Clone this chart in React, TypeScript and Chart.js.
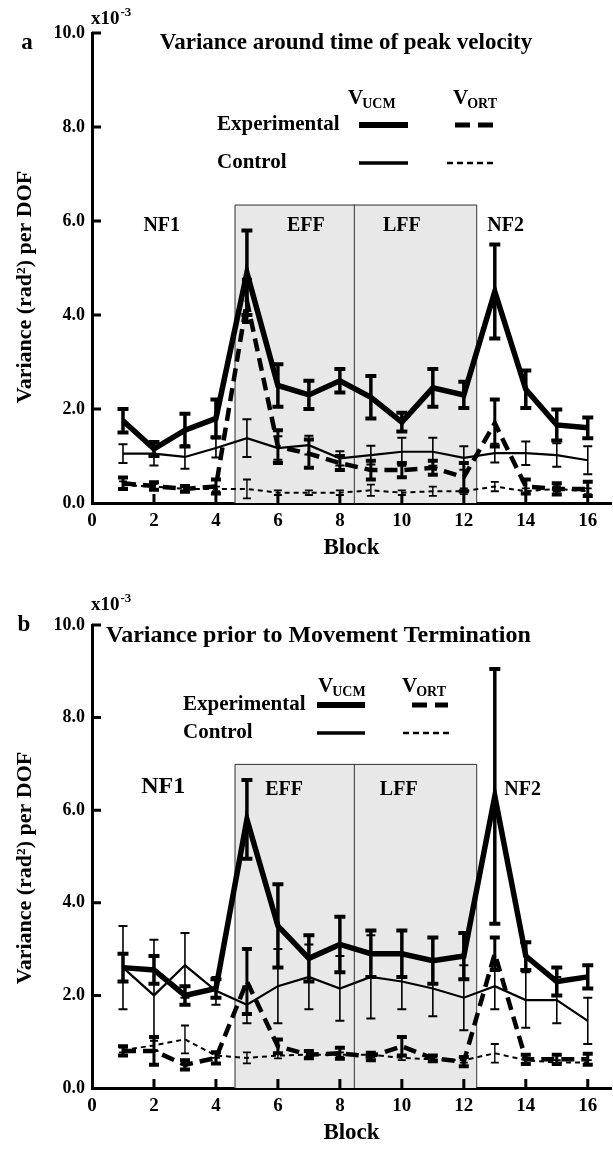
import React, { useEffect, useRef } from 'react';
import { Chart, registerables } from 'chart.js';
Chart.register(...registerables);

// ---------- data ----------
const blocks = [1, 2, 3, 4, 5, 6, 7, 8, 9, 10, 11, 12, 13, 14, 15, 16];
const xTickValues = [0, 2, 4, 6, 8, 10, 12, 14, 16];
const yTickValues = [0, 2, 4, 6, 8, 10];

// Panel a: variance around time of peak velocity (x10^-3)
const aExpUCM = [1.75, 1.15, 1.55, 1.8, 4.9, 2.5, 2.3, 2.6, 2.25, 1.72, 2.45, 2.3, 4.5, 2.42, 1.66, 1.6];
const aExpUCMErr = [0.25, 0.15, 0.35, 0.4, 0.9, 0.45, 0.3, 0.25, 0.45, 0.2, 0.4, 0.28, 1.0, 0.4, 0.33, 0.22];
const aExpORT = [0.42, 0.36, 0.3, 0.35, 4.3, 1.2, 1.05, 0.85, 0.7, 0.7, 0.75, 0.55, 1.7, 0.35, 0.3, 0.3];
const aExpORTErr = [0.12, 0.08, 0.06, 0.15, 0.45, 0.35, 0.3, 0.15, 0.2, 0.15, 0.15, 0.3, 0.5, 0.15, 0.12, 0.15];
const aCtlUCM = [1.05, 1.05, 0.98, 1.17, 1.38, 1.17, 1.23, 0.95, 1.02, 1.09, 1.09, 0.96, 1.06, 1.06, 1.02, 0.91];
const aCtlUCMErr = [0.2, 0.25, 0.25, 0.2, 0.4, 0.25, 0.2, 0.15, 0.2, 0.3, 0.3, 0.25, 0.2, 0.25, 0.25, 0.3];
const aCtlORT = [0.38, 0.35, 0.3, 0.3, 0.3, 0.22, 0.22, 0.22, 0.27, 0.22, 0.25, 0.25, 0.35, 0.25, 0.3, 0.25];
const aCtlORTErr = [0.08, 0.06, 0.05, 0.05, 0.2, 0.05, 0.05, 0.05, 0.12, 0.05, 0.1, 0.06, 0.1, 0.06, 0.06, 0.06];

// Panel b: variance prior to movement termination (x10^-3)
const bExpUCM = [2.6, 2.55, 2.0, 2.15, 5.8, 3.5, 2.8, 3.1, 2.9, 2.9, 2.75, 2.85, 6.3, 2.85, 2.3, 2.4];
const bExpUCMErr = [0.3, 0.3, 0.2, 0.2, 0.85, 0.9, 0.5, 0.6, 0.5, 0.5, 0.5, 0.5, 2.75, 0.3, 0.3, 0.25];
const bExpORT = [0.8, 0.8, 0.5, 0.65, 2.3, 0.9, 0.72, 0.75, 0.68, 0.9, 0.64, 0.57, 2.9, 0.62, 0.62, 0.62];
const bExpORTErr = [0.1, 0.3, 0.1, 0.12, 0.7, 0.15, 0.08, 0.12, 0.08, 0.2, 0.06, 0.1, 0.35, 0.1, 0.1, 0.12];
const bCtlUCM = [2.6, 2.0, 2.65, 2.1, 1.8, 2.2, 2.4, 2.15, 2.4, 2.3, 2.15, 1.95, 2.2, 1.9, 1.9, 1.45];
const bCtlUCMErr = [0.9, 1.2, 0.7, 0.3, 0.4, 0.8, 0.7, 0.7, 0.9, 0.6, 0.6, 0.7, 0.5, 0.6, 0.5, 0.5];
const bCtlORT = [0.82, 0.92, 1.05, 0.7, 0.65, 0.7, 0.72, 0.72, 0.72, 0.65, 0.62, 0.6, 0.75, 0.6, 0.55, 0.55];
const bCtlORTErr = [0.05, 0.1, 0.3, 0.05, 0.12, 0.06, 0.05, 0.05, 0.05, 0.05, 0.05, 0.05, 0.2, 0.05, 0.05, 0.05];

// phase boundaries (in block units) and labels
const phaseBounds = [4.6, 8.45, 12.4];
const phaseNames = ['NF1', 'EFF', 'LFF', 'NF2'];

const FONT = '"Liberation Serif", "Times New Roman", serif';
const W = 613;
const H = 575;

type Panel = {
  letter: string;
  title: string;
  expUCM: number[]; expUCMErr: number[];
  expORT: number[]; expORTErr: number[];
  ctlUCM: number[]; ctlUCMErr: number[];
  ctlORT: number[]; ctlORTErr: number[];
  layout: any;
};

const panelA: Panel = {
  letter: 'a',
  title: 'Variance around time of peak velocity',
  expUCM: aExpUCM, expUCMErr: aExpUCMErr,
  expORT: aExpORT, expORTErr: aExpORTErr,
  ctlUCM: aCtlUCM, ctlUCMErr: aCtlUCMErr,
  ctlORT: aCtlORT, ctlORTErr: aCtlORTErr,
  layout: {
    top: 33, bottomH: 72,
    letterPos: [27, 43],
    expPos: [91, 24],
    titlePos: [346, 43, 'center', 23],
    legHead: [348, 453, 97],
    legRows: [217, 125, 163],
    legUCM: [359, 408],
    legORT: [455, 493, 447, 494],
    regionTop: 6.35,
    phaseLabels: [[2.25, 5.9, 20], [6.9, 5.9, 20], [10.0, 5.9, 20], [13.35, 5.9, 20]],
    yTitleY: 287,
    blockY: 548,
  },
};

const panelB: Panel = {
  letter: 'b',
  title: 'Variance prior to Movement Termination',
  expUCM: bExpUCM, expUCMErr: bExpUCMErr,
  expORT: bExpORT, expORTErr: bExpORTErr,
  ctlUCM: bCtlUCM, ctlUCMErr: bCtlUCMErr,
  ctlORT: bCtlORT, ctlORTErr: bCtlORTErr,
  layout: {
    top: 50, bottomH: 62,
    letterPos: [24, 50],
    expPos: [91, 35],
    titlePos: [106, 61, 'left', 24],
    legHead: [318, 402, 110],
    legRows: [183, 130, 158],
    legUCM: [317, 365],
    legORT: [412, 448, 403, 449],
    regionTop: 7.0,
    phaseLabels: [[2.3, 6.5, 24], [6.2, 6.45, 20], [9.9, 6.45, 20], [13.9, 6.45, 20]],
    yTitleY: 293,
    blockY: 558,
  },
};

function bold(size: number) {
  return `bold ${size}px ${FONT}`;
}

function makePlugin(p: Panel) {
  const L = p.layout;
  return {
    id: 'decor' + p.letter,
    beforeDatasetsDraw(chart: any) {
      const { ctx, scales } = chart;
      const xs = scales.x, ys = scales.y;
      const x0 = xs.getPixelForValue(phaseBounds[0]);
      const x1 = xs.getPixelForValue(phaseBounds[1]);
      const x2 = xs.getPixelForValue(phaseBounds[2]);
      const yt = ys.getPixelForValue(L.regionTop);
      const yb = ys.getPixelForValue(0);
      ctx.save();
      ctx.fillStyle = '#e8e8e8';
      ctx.fillRect(x0, yt, x2 - x0, yb - yt);
      ctx.strokeStyle = '#333';
      ctx.lineWidth = 1;
      ctx.beginPath();
      ctx.moveTo(x0 + 0.5, yb);
      ctx.lineTo(x0 + 0.5, yt + 0.5);
      ctx.lineTo(x2 + 0.5, yt + 0.5);
      ctx.lineTo(x2 + 0.5, yb);
      ctx.moveTo(x1 + 0.5, yt);
      ctx.lineTo(x1 + 0.5, yb);
      ctx.stroke();
      // phase labels
      ctx.fillStyle = '#000';
      ctx.textAlign = 'center';
      ctx.textBaseline = 'middle';
      phaseNames.forEach((n, i) => {
        const [bx, by, fs] = L.phaseLabels[i];
        ctx.font = bold(fs);
        ctx.fillText(n, xs.getPixelForValue(bx), ys.getPixelForValue(by));
      });
      ctx.restore();
    },
    afterDatasetsDraw(chart: any) {
      const { ctx, scales } = chart;
      const xs = scales.x, ys = scales.y;
      ctx.save();
      ctx.strokeStyle = '#000';
      chart.data.datasets.forEach((ds: any) => {
        const errs: number[] = ds.errors;
        ds.data.forEach((pt: any, i: number) => {
          const e = errs[i];
          const x = xs.getPixelForValue(pt.x);
          const yt = ys.getPixelForValue(pt.y + e);
          const yb = ys.getPixelForValue(Math.max(0, pt.y - e));
          ctx.lineWidth = ds.errW;
          ctx.setLineDash([]);
          ctx.beginPath();
          ctx.moveTo(x, yt);
          ctx.lineTo(x, yb);
          ctx.stroke();
          ctx.lineWidth = ds.capW;
          ctx.beginPath();
          ctx.moveTo(x - ds.capHalf, yt);
          ctx.lineTo(x + ds.capHalf, yt);
          ctx.moveTo(x - ds.capHalf, yb);
          ctx.lineTo(x + ds.capHalf, yb);
          ctx.stroke();
        });
      });
      ctx.restore();
    },
    afterDraw(chart: any) {
      const { ctx, scales, chartArea } = chart;
      const xs = scales.x, ys = scales.y;
      ctx.save();
      ctx.strokeStyle = '#000';
      ctx.fillStyle = '#000';
      // inward tick marks
      ctx.lineWidth = 3;
      ctx.beginPath();
      yTickValues.forEach((v) => {
        if (v === 0) return;
        const y = ys.getPixelForValue(v);
        ctx.moveTo(chartArea.left, y);
        ctx.lineTo(chartArea.left + 9, y);
      });
      xTickValues.forEach((v) => {
        if (v === 0) return;
        const x = xs.getPixelForValue(v);
        ctx.moveTo(x, chartArea.bottom);
        ctx.lineTo(x, chartArea.bottom - 9);
      });
      ctx.stroke();

      // panel letter
      ctx.textBaseline = 'middle';
      ctx.textAlign = 'center';
      ctx.font = bold(23);
      ctx.fillText(p.letter, L.letterPos[0], L.letterPos[1]);

      // exponent label x10^-3
      ctx.textAlign = 'left';
      ctx.textBaseline = 'alphabetic';
      ctx.font = bold(19);
      ctx.fillText('x10', L.expPos[0], L.expPos[1]);
      const w10 = ctx.measureText('x10').width;
      ctx.font = bold(13);
      ctx.fillText('-3', L.expPos[0] + w10 + 1, L.expPos[1] - 8);

      // title
      const [tx, ty, talign, tsize] = L.titlePos;
      ctx.font = bold(tsize);
      ctx.textAlign = talign;
      ctx.textBaseline = 'middle';
      ctx.fillText(p.title, tx, ty);

      // legend headers V_UCM, V_ORT
      const drawV = (x: number, y: number, sub: string) => {
        ctx.textAlign = 'left';
        ctx.textBaseline = 'alphabetic';
        ctx.font = bold(21);
        ctx.fillText('V', x, y + 7);
        const wv = ctx.measureText('V').width;
        ctx.font = bold(14);
        ctx.fillText(sub, x + wv - 1, y + 11);
      };
      drawV(L.legHead[0], L.legHead[2], 'UCM');
      drawV(L.legHead[1], L.legHead[2], 'ORT');

      ctx.font = bold(21);
      ctx.textAlign = 'left';
      ctx.textBaseline = 'middle';
      ctx.fillText('Experimental', L.legRows[0], L.legRows[1]);
      ctx.fillText('Control', L.legRows[0], L.legRows[2]);

      // legend line samples
      const seg = (xa: number, xb: number, y: number, lw: number, dash: number[]) => {
        ctx.lineWidth = lw;
        ctx.setLineDash(dash);
        ctx.beginPath();
        ctx.moveTo(xa, y);
        ctx.lineTo(xb, y);
        ctx.stroke();
      };
      seg(L.legUCM[0], L.legUCM[1], L.legRows[1], 6, []);
      seg(L.legORT[0], L.legORT[1], L.legRows[1], 5, [15, 8]);
      seg(L.legUCM[0], L.legUCM[1], L.legRows[2], 3.5, []);
      seg(L.legORT[2], L.legORT[3], L.legRows[2], 2.5, [6, 4]);
      ctx.setLineDash([]);

      // y axis title
      ctx.save();
      ctx.translate(25, L.yTitleY);
      ctx.rotate(-Math.PI / 2);
      ctx.textAlign = 'center';
      ctx.textBaseline = 'middle';
      ctx.font = bold(22);
      ctx.fillText('Variance (rad\u00B2) per DOF', 0, 0);
      ctx.restore();

      // x axis title
      ctx.textAlign = 'center';
      ctx.textBaseline = 'middle';
      ctx.font = bold(23);
      ctx.fillText('Block', (chartArea.left + chartArea.right) / 2, L.blockY);
      ctx.restore();
    },
  };
}

function makeConfig(p: Panel): any {
  const toPts = (vals: number[]) => blocks.map((b, i) => ({ x: b, y: vals[i] }));
  const L = p.layout;
  return {
    type: 'line',
    data: {
      datasets: [
        { label: 'Experimental VUCM', data: toPts(p.expUCM), errors: p.expUCMErr, borderColor: '#000', borderWidth: 5.5, pointRadius: 0, tension: 0, errW: 3.5, capW: 4, capHalf: 5.5, borderJoinStyle: 'miter' },
        { label: 'Experimental VORT', data: toPts(p.expORT), errors: p.expORTErr, borderColor: '#000', borderWidth: 4.5, borderDash: [13, 7], pointRadius: 0, tension: 0, errW: 3, capW: 4, capHalf: 5 },
        { label: 'Control VUCM', data: toPts(p.ctlUCM), errors: p.ctlUCMErr, borderColor: '#000', borderWidth: 2.2, pointRadius: 0, tension: 0, errW: 1.6, capW: 2, capHalf: 4.5 },
        { label: 'Control VORT', data: toPts(p.ctlORT), errors: p.ctlORTErr, borderColor: '#000', borderWidth: 2, borderDash: [5, 4], pointRadius: 0, tension: 0, errW: 1.4, capW: 1.8, capHalf: 4 },
      ],
    },
    options: {
      animation: false,
      responsive: false,
      devicePixelRatio: 1,
      layout: { padding: { left: 0, top: L.top, right: 2, bottom: 0 } },
      plugins: { legend: { display: false }, tooltip: { enabled: false }, title: { display: false } },
      scales: {
        x: {
          type: 'linear',
          min: 0,
          max: 16.75,
          afterBuildTicks: (s: any) => { s.ticks = xTickValues.map((v) => ({ value: v })); },
          afterFit: (s: any) => { s.height = L.bottomH; },
          grid: { display: true, drawOnChartArea: false, drawTicks: false },
          border: { display: true, color: '#000', width: 3 },
          ticks: { color: '#000', font: { family: FONT, size: 19, weight: 'bold' }, padding: 7, maxRotation: 0, autoSkip: false, callback: (v: any) => String(v) },
        },
        y: {
          type: 'linear',
          min: 0,
          max: 10,
          afterBuildTicks: (s: any) => { s.ticks = yTickValues.map((v) => ({ value: v })); },
          afterFit: (s: any) => { s.width = 92; },
          grid: { display: true, drawOnChartArea: false, drawTicks: false },
          border: { display: true, color: '#000', width: 3 },
          ticks: { color: '#000', font: { family: FONT, size: 18, weight: 'bold' }, padding: 7, callback: (v: any) => Number(v).toFixed(1) },
        },
      },
    },
    plugins: [makePlugin(p)],
  };
}

function PanelChart({ panel, top }: { panel: Panel; top: number }) {
  const ref = useRef<HTMLCanvasElement | null>(null);
  useEffect(() => {
    if (!ref.current) return;
    const chart = new Chart(ref.current, makeConfig(panel));
    return () => chart.destroy();
  }, [panel]);
  return (
    <canvas
      ref={ref}
      width={W}
      height={H}
      style={{ position: 'absolute', left: 0, top, width: W, height: H, display: 'block' }}
    />
  );
}

export default function App() {
  return (
    <div style={{ position: 'absolute', left: 0, top: 0, width: W, height: 1150, background: '#fff', overflow: 'hidden' }}>
      <PanelChart panel={panelA} top={0} />
      <PanelChart panel={panelB} top={575} />
    </div>
  );
}
